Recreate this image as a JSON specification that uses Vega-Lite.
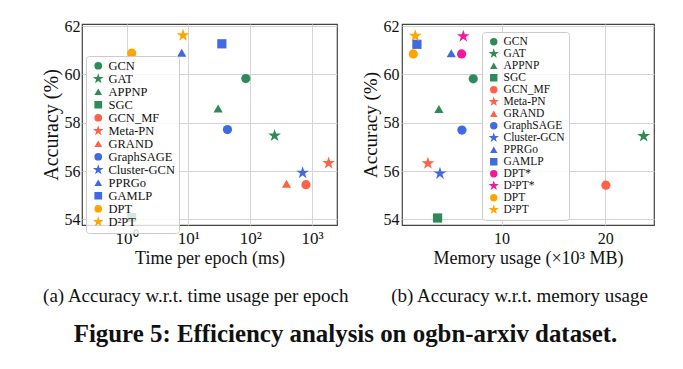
{
  "$schema": "https://vega.github.io/schema/vega-lite/v6.json",
  "background": "white",
  "padding": {"left": 40, "top": 17, "right": 5, "bottom": 5},
  "config": {
    "font": "Liberation Serif",
    "view": {"stroke": "#444", "strokeWidth": 1.2},
    "axis": {
      "labelFont": "Liberation Serif", "titleFont": "Liberation Serif",
      "labelColor": "#111", "titleColor": "#111", "gridColor": "#d4d4d4",
      "domain": false, "ticks": false, "titleFontWeight": "normal"
    },
    "legend": {
      "orient": "none", "title": null,
      "labelFont": "Liberation Serif", "labelColor": "#111",
      "fillColor": "rgba(255,255,255,0.8)", "strokeColor": "#cccccc",
      "cornerRadius": 3, "padding": 4, "symbolOffset": 2,
      "rowPadding": -1.7, "clipHeight": 11.5
    },
    "concat": {"spacing": 22}
  },
  "title": {
    "text": "(a) Accuracy w.r.t. time usage per epoch\u00a0\u00a0\u00a0\u00a0\u00a0\u00a0\u00a0\u00a0\u00a0(b) Accuracy w.r.t. memory usage",
    "subtitle": "Figure 5: Efficiency analysis on ogbn-arxiv dataset.",
    "orient": "bottom", "anchor": "middle", "frame": "bounds",
    "fontSize": 19, "fontWeight": "normal", "font": "Liberation Serif", "color": "#111",
    "subtitleFont": "Liberation Serif", "subtitleFontSize": 24.9, "subtitleFontWeight": "bold", "subtitleColor": "#111",
    "subtitlePadding": 16, "offset": 19, "dx": -2
  },
  "datasets": {
    "time": [
      {"method": "GCN", "time": 85, "acc": 59.83},
      {"method": "GAT", "time": 248, "acc": 57.47},
      {"method": "APPNP", "time": 30.3, "acc": 58.59},
      {"method": "SGC", "time": 1.21, "acc": 54.08},
      {"method": "GCN_MF", "time": 800, "acc": 55.44},
      {"method": "Meta-PN", "time": 1858, "acc": 56.33},
      {"method": "GRAND", "time": 387, "acc": 55.48},
      {"method": "GraphSAGE", "time": 42.9, "acc": 57.72},
      {"method": "Cluster-GCN", "time": 705, "acc": 55.93},
      {"method": "PPRGo", "time": 7.8, "acc": 60.9},
      {"method": "GAMLP", "time": 34.8, "acc": 61.27},
      {"method": "DPT", "time": 1.21, "acc": 60.88},
      {"method": "D²PT", "time": 8.2, "acc": 61.62}
    ],
    "memory": [
      {"method": "GCN", "mem": 7.27, "acc": 59.82},
      {"method": "GAT", "mem": 23.7, "acc": 57.45},
      {"method": "APPNP", "mem": 3.96, "acc": 58.57},
      {"method": "SGC", "mem": 3.83, "acc": 54.06},
      {"method": "GCN_MF", "mem": 20.06, "acc": 55.42},
      {"method": "Meta-PN", "mem": 2.9, "acc": 56.32},
      {"method": "GraphSAGE", "mem": 6.18, "acc": 57.7},
      {"method": "Cluster-GCN", "mem": 4.06, "acc": 55.9},
      {"method": "PPRGo", "mem": 5.15, "acc": 60.88},
      {"method": "GAMLP", "mem": 1.84, "acc": 61.25},
      {"method": "DPT*", "mem": 6.15, "acc": 60.85},
      {"method": "D²PT*", "mem": 6.31, "acc": 61.58},
      {"method": "DPT", "mem": 1.49, "acc": 60.85},
      {"method": "D²PT", "mem": 1.68, "acc": 61.6}
    ]
  },
  "hconcat": [
    {
      "width": 255, "height": 201,
      "data": {"name": "time"},
      "mark": {"type": "point", "filled": true, "opacity": 1, "size": 85},
      "encoding": {
        "x": {"field": "time", "type": "quantitative",
          "scale": {"type": "log", "domain": [0.19, 2540], "nice": false},
          "axis": {"title": "Time per epoch (ms)", "titleFontSize": 18, "labelFontSize": 17, "values": [1, 10, 100, 1000],
            "labelExpr": "datum.value == 1 ? '10⁰' : datum.value == 10 ? '10¹' : datum.value == 100 ? '10²' : '10³'",
            "labelPadding": 5, "titlePadding": 3}},
        "y": {"field": "acc", "type": "quantitative",
          "scale": {"domain": [53.77, 62.09], "nice": false, "zero": false},
          "axis": {"title": "Accuracy (%)", "titleFontSize": 20, "labelFontSize": 16, "values": [54, 56, 58, 60, 62], "labelPadding": 2, "titlePadding": 3}},
        "color": {"field": "method", "type": "nominal",
          "scale": {"domain": ["GCN", "GAT", "APPNP", "SGC", "GCN_MF", "Meta-PN", "GRAND", "GraphSAGE", "Cluster-GCN", "PPRGo", "GAMLP", "DPT", "D²PT"],
            "range": ["#2e8b57", "#2e8b57", "#2e8b57", "#2e8b57", "#fa6347", "#fa6347", "#fa6347", "#4169e1", "#4169e1", "#4169e1", "#4169e1", "#ffa500", "#ffa500"]},
          "legend": {"legendX": 4, "legendY": 32, "labelFontSize": 12.5, "symbolSize": 60}},
        "shape": {"field": "method", "type": "nominal",
          "scale": {"domain": ["GCN", "GAT", "APPNP", "SGC", "GCN_MF", "Meta-PN", "GRAND", "GraphSAGE", "Cluster-GCN", "PPRGo", "GAMLP", "DPT", "D²PT"],
            "range": ["circle", "M0,-1.45L0.3255,-0.448L1.379,-0.448L0.5268,0.171L0.8523,1.173L0,0.554L-0.8523,1.173L-0.5268,0.171L-1.379,-0.448L-0.3255,-0.448Z", "triangle-up", "square", "circle", "M0,-1.45L0.3255,-0.448L1.379,-0.448L0.5268,0.171L0.8523,1.173L0,0.554L-0.8523,1.173L-0.5268,0.171L-1.379,-0.448L-0.3255,-0.448Z", "triangle-up", "circle", "M0,-1.45L0.3255,-0.448L1.379,-0.448L0.5268,0.171L0.8523,1.173L0,0.554L-0.8523,1.173L-0.5268,0.171L-1.379,-0.448L-0.3255,-0.448Z", "triangle-up", "square", "circle", "M0,-1.45L0.3255,-0.448L1.379,-0.448L0.5268,0.171L0.8523,1.173L0,0.554L-0.8523,1.173L-0.5268,0.171L-1.379,-0.448L-0.3255,-0.448Z"]},
          "legend": {"legendX": 4, "legendY": 32, "labelFontSize": 12.5, "symbolSize": 60}}
      }
    },
    {
      "width": 252, "height": 201,
      "data": {"name": "memory"},
      "mark": {"type": "point", "filled": true, "opacity": 1, "size": 85},
      "encoding": {
        "x": {"field": "mem", "type": "quantitative",
          "scale": {"domain": [0.4, 24.7], "nice": false, "zero": false},
          "axis": {"title": "Memory usage (×10³ MB)", "titleFontSize": 18, "labelFontSize": 16, "values": [10, 20], "labelPadding": 5, "titlePadding": 3}},
        "y": {"field": "acc", "type": "quantitative",
          "scale": {"domain": [53.77, 62.09], "nice": false, "zero": false},
          "axis": {"title": "Accuracy (%)", "titleFontSize": 19, "labelFontSize": 16, "values": [54, 56, 58, 60, 62], "labelPadding": 3, "titlePadding": 3}},
        "color": {"field": "method", "type": "nominal",
          "scale": {"domain": ["GCN", "GAT", "APPNP", "SGC", "GCN_MF", "Meta-PN", "GRAND", "GraphSAGE", "Cluster-GCN", "PPRGo", "GAMLP", "DPT*", "D²PT*", "DPT", "D²PT"],
            "range": ["#2e8b57", "#2e8b57", "#2e8b57", "#2e8b57", "#fa6347", "#fa6347", "#fa6347", "#4169e1", "#4169e1", "#4169e1", "#4169e1", "#f0199b", "#f0199b", "#ffa500", "#ffa500"]},
          "legend": {"legendX": 80, "legendY": 8, "labelFontSize": 11.5, "symbolSize": 55}},
        "shape": {"field": "method", "type": "nominal",
          "scale": {"domain": ["GCN", "GAT", "APPNP", "SGC", "GCN_MF", "Meta-PN", "GRAND", "GraphSAGE", "Cluster-GCN", "PPRGo", "GAMLP", "DPT*", "D²PT*", "DPT", "D²PT"],
            "range": ["circle", "M0,-1.45L0.3255,-0.448L1.379,-0.448L0.5268,0.171L0.8523,1.173L0,0.554L-0.8523,1.173L-0.5268,0.171L-1.379,-0.448L-0.3255,-0.448Z", "triangle-up", "square", "circle", "M0,-1.45L0.3255,-0.448L1.379,-0.448L0.5268,0.171L0.8523,1.173L0,0.554L-0.8523,1.173L-0.5268,0.171L-1.379,-0.448L-0.3255,-0.448Z", "triangle-up", "circle", "M0,-1.45L0.3255,-0.448L1.379,-0.448L0.5268,0.171L0.8523,1.173L0,0.554L-0.8523,1.173L-0.5268,0.171L-1.379,-0.448L-0.3255,-0.448Z", "triangle-up", "square", "circle", "M0,-1.45L0.3255,-0.448L1.379,-0.448L0.5268,0.171L0.8523,1.173L0,0.554L-0.8523,1.173L-0.5268,0.171L-1.379,-0.448L-0.3255,-0.448Z", "circle", "M0,-1.45L0.3255,-0.448L1.379,-0.448L0.5268,0.171L0.8523,1.173L0,0.554L-0.8523,1.173L-0.5268,0.171L-1.379,-0.448L-0.3255,-0.448Z"]},
          "legend": {"legendX": 80, "legendY": 8, "labelFontSize": 11.5, "symbolSize": 55}}
      }
    }
  ],
  "resolve": {"scale": {"color": "independent", "shape": "independent"}, "legend": {"color": "independent", "shape": "independent"}}
}
